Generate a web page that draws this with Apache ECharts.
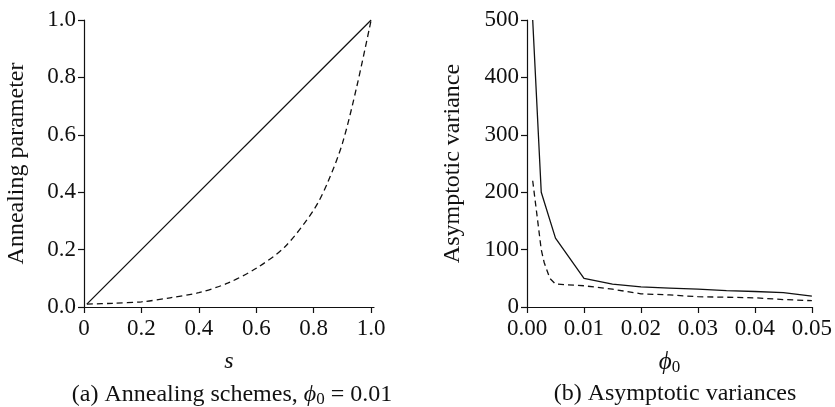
<!DOCTYPE html>
<html>
<head>
<meta charset="utf-8">
<script src="https://cdn.jsdelivr.net/npm/echarts@6/dist/echarts.min.js"></script>
<style>
html,body{margin:0;padding:0;background:#fff;}
#c{width:835px;height:407px;}
</style>
</head>
<body>
<div id="c"></div>
<script>
// Panel (a): annealing schemes
const sLinear = [0.01, 1.0];
const linearVals = [0.01, 1.0];
const sExp = [0.01, 0.1, 0.2, 0.3, 0.4, 0.5, 0.6, 0.7, 0.8, 0.85, 0.9, 0.95, 1.0];
const expVals = [0.01, 0.013, 0.018, 0.032, 0.05, 0.083, 0.135, 0.21, 0.338, 0.437, 0.57, 0.768, 1.0];

// Panel (b): asymptotic variances
const phiSolid = [0.001, 0.0025, 0.005, 0.01, 0.015, 0.02, 0.025, 0.03, 0.035, 0.04, 0.045, 0.05];
const varSolid = [500, 200, 120, 50, 40, 35, 33, 31, 28.5, 27, 25, 19];
const phiDashed = [0.001, 0.0025, 0.003, 0.004, 0.005, 0.01, 0.015, 0.02, 0.025, 0.03, 0.035, 0.04, 0.045, 0.05];
const varDashed = [220, 100, 78, 50, 40, 37, 31, 23, 21, 18, 17, 16, 13, 11];

const xTicksA = ['0', '0.2', '0.4', '0.6', '0.8', '1.0'];
const yTicksA = ['0.0', '0.2', '0.4', '0.6', '0.8', '1.0'];
const xTicksB = ['0.00', '0.01', '0.02', '0.03', '0.04', '0.05'];
const yTicksB = ['0', '100', '200', '300', '400', '500'];

const FONT = '"Liberation Serif", "DejaVu Serif", serif';
const C = '#111';
const TICK_FS = 23;
const NAME_FS = 24;

function zip(a, b) { return a.map((v, i) => [v, b[i]]); }

const axisCommon = {
  axisLine: { show: true, lineStyle: { color: C, width: 1.2 } },
  axisTick: { show: true, length: 6, inside: false, lineStyle: { color: C, width: 1.2 } },
  splitLine: { show: false },
  axisLabel: { color: C, fontFamily: FONT, fontSize: TICK_FS, margin: 8 },
  nameTextStyle: { color: C, fontFamily: FONT, fontSize: NAME_FS }
};

const chart = echarts.init(document.getElementById('c'), null, { renderer: 'canvas' });

const option = {
  animation: false,
  backgroundColor: '#fff',
  grid: [
    { left: 84, top: 20, width: 290, height: 287 },
    { left: 527, top: 20, width: 288, height: 287 }
  ],
  xAxis: [
    Object.assign({}, axisCommon, {
      gridIndex: 0, type: 'value', min: 0, max: 1.01, interval: 0.2,
      axisLabel: Object.assign({}, axisCommon.axisLabel, {
        margin: 10,
        formatter: v => { const i = Math.round(v / 0.2); return Math.abs(v - i * 0.2) < 1e-9 ? xTicksA[i] : ''; },
        showMaxLabel: false
      }),
      name: 's', nameLocation: 'middle', nameGap: 43,
      nameTextStyle: Object.assign({}, axisCommon.nameTextStyle, { fontStyle: 'italic' })
    }),
    Object.assign({}, axisCommon, {
      gridIndex: 1, type: 'value', min: 0, max: 0.05, interval: 0.01,
      axisLabel: Object.assign({}, axisCommon.axisLabel, {
        margin: 10,
        formatter: v => xTicksB[Math.round(v / 0.01)]
      }),
      name: '{i|ϕ}{s|0}', nameLocation: 'middle', nameGap: 42,
      nameTextStyle: Object.assign({}, axisCommon.nameTextStyle, {
        rich: {
          i: { fontFamily: FONT, fontSize: 25, fontStyle: 'italic', color: C },
          s: { fontFamily: FONT, fontSize: 17, color: C, padding: [10, 0, 0, 0] }
        }
      })
    })
  ],
  yAxis: [
    Object.assign({}, axisCommon, {
      gridIndex: 0, type: 'value', min: 0, max: 1, interval: 0.2,
      axisLabel: Object.assign({}, axisCommon.axisLabel, {
        formatter: v => yTicksA[Math.round(v / 0.2)]
      }),
      name: 'Annealing parameter', nameLocation: 'middle', nameGap: 55, nameRotate: 90
    }),
    Object.assign({}, axisCommon, {
      gridIndex: 1, type: 'value', min: 0, max: 500, interval: 100,
      axisLabel: Object.assign({}, axisCommon.axisLabel, {
        formatter: v => yTicksB[Math.round(v / 100)]
      }),
      name: 'Asymptotic variance', nameLocation: 'middle', nameGap: 62, nameRotate: 90
    })
  ],
  title: [
    {
      text: '(a) Annealing schemes, {i|ϕ}{s|0} = 0.01',
      left: 227, top: 377, textAlign: 'center',
      textStyle: {
        fontFamily: FONT, fontSize: NAME_FS, fontWeight: 'normal', color: C,
        rich: {
          i: { fontFamily: FONT, fontSize: NAME_FS, fontStyle: 'italic', color: C },
          s: { fontFamily: FONT, fontSize: 17, color: C, padding: [9, 0, 0, 0] }
        }
      }
    },
    {
      text: '(b) Asymptotic variances',
      left: 670, top: 377, textAlign: 'center',
      textStyle: { fontFamily: FONT, fontSize: NAME_FS, fontWeight: 'normal', color: C }
    }
  ],
  series: [
    {
      type: 'line', xAxisIndex: 0, yAxisIndex: 0, data: zip(sLinear, linearVals),
      showSymbol: false, lineStyle: { color: C, width: 1.3, type: 'solid' }
    },
    {
      type: 'line', xAxisIndex: 0, yAxisIndex: 0, data: zip(sExp, expVals), smooth: 0.3,
      showSymbol: false, lineStyle: { color: C, width: 1.3, type: [6, 4] }
    },
    {
      type: 'line', xAxisIndex: 1, yAxisIndex: 1, data: zip(phiSolid, varSolid),
      showSymbol: false, lineStyle: { color: C, width: 1.3, type: 'solid' }
    },
    {
      type: 'line', xAxisIndex: 1, yAxisIndex: 1, data: zip(phiDashed, varDashed),
      showSymbol: false, lineStyle: { color: C, width: 1.3, type: [6, 4] }
    }
  ]
};
chart.setOption(option);
</script>
</body>
</html>
